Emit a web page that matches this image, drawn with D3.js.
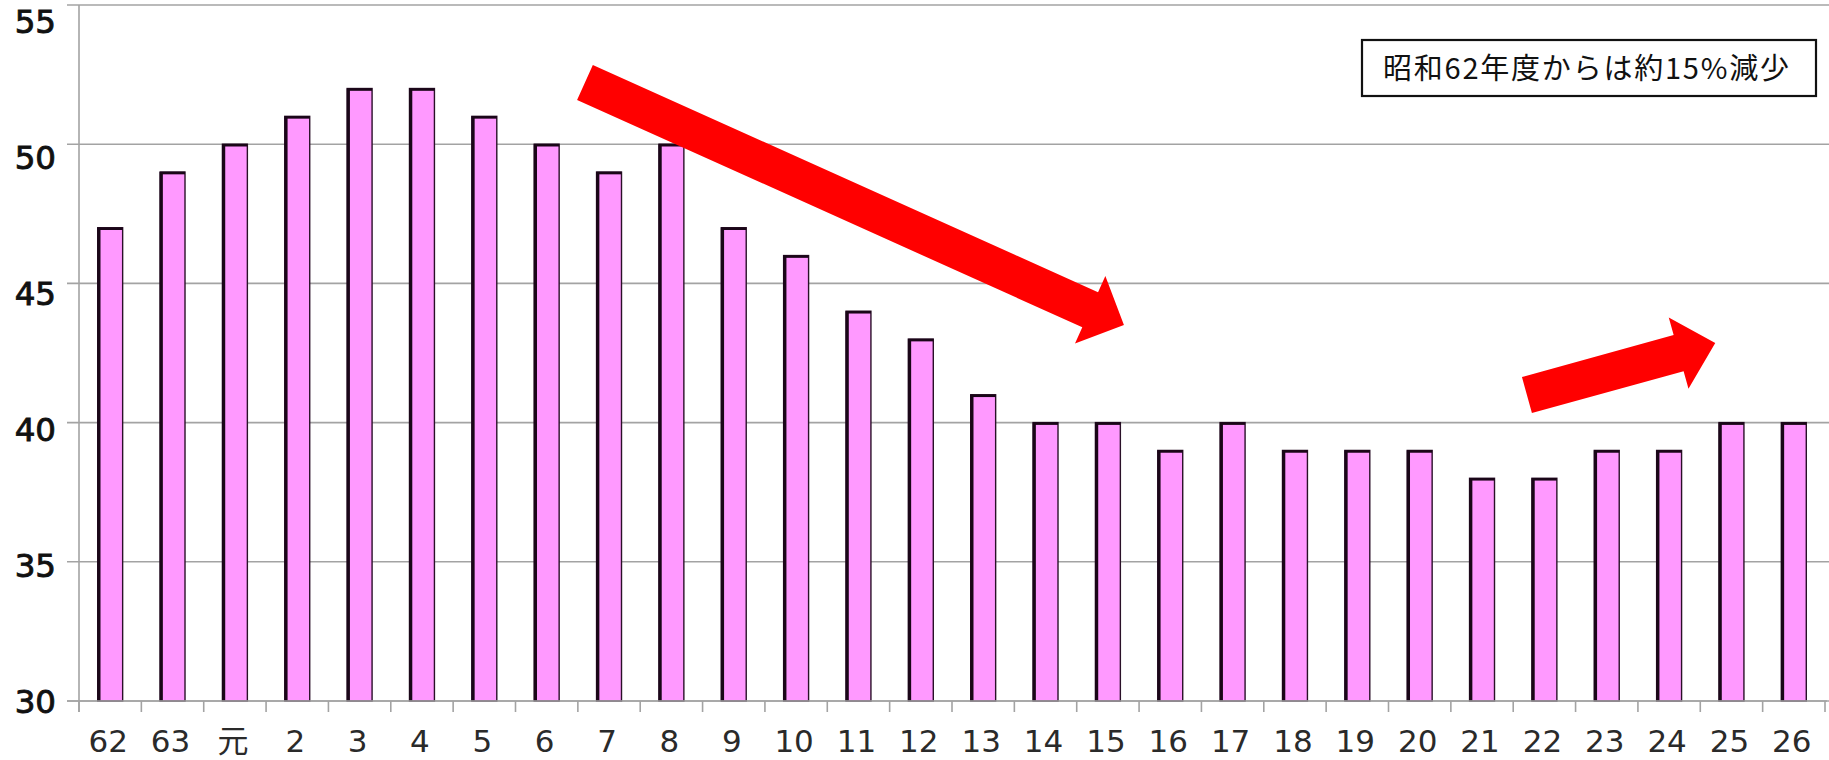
<!DOCTYPE html>
<html><head><meta charset="utf-8">
<script src="https://cdn.jsdelivr.net/npm/d3@7"></script>
<style>body{margin:0;background:#fff;}svg{display:block;}</style>
</head><body>
<svg id="chart" width="1829" height="760"></svg>
<script>
const categories = ["62","63","元","2","3","4","5","6","7","8","9","10","11","12","13","14","15","16","17","18","19","20","21","22","23","24","25","26"];
const values = [47,49,50,51,52,52,51,50,49,50,47,46,44,43,41,40,40,39,40,39,39,39,38,38,39,39,40,40];
const yTicks = [30,35,40,45,50,55];
const note = "昭和62年度からは約15%減少";
// arrows in data coordinates: [category index, value]
const arrowTails = [[7.614,52.22],[22.72,40.99]];
const arrowTips  = [[16.257,43.51],[25.74,42.86]];

const W = 1829, H = 760;
const L = 79, R = 1825, T = 5, B = 701;
const svg = d3.select("#chart");
svg.append("rect").attr("width",W).attr("height",H).attr("fill","#fff");

const x = d3.scaleBand().domain(categories).range([L,R]).paddingInner(0.6).paddingOuter(0.3);
const xi = d3.scaleLinear().domain([-0.5, categories.length-0.5]).range([L,R]);
const y = d3.scaleLinear().domain([30,55]).range([B,T]);
const yLab = d3.scaleLinear().domain([30,55]).range([701,21]);

// gridlines
svg.append("g").selectAll("line").data(yTicks).join("line")
  .attr("x1",67).attr("x2",W).attr("y1",d=>y(d)).attr("y2",d=>y(d))
  .attr("stroke","#a3a3a3").attr("stroke-width",1.6);

// y axis line
svg.append("line").attr("x1",L).attr("x2",L).attr("y1",T).attr("y2",712)
  .attr("stroke","#a3a3a3").attr("stroke-width",1.6);

// x tick marks at band boundaries
const step = x.step();
svg.append("g").selectAll("line").data(d3.range(categories.length+1)).join("line")
  .attr("x1",i=>L+i*step).attr("x2",i=>L+i*step).attr("y1",B).attr("y2",712)
  .attr("stroke","#a3a3a3").attr("stroke-width",1.6);

// bars
const bars = svg.append("g").selectAll("g").data(values).join("g");
bars.append("rect")
  .attr("x",(d,i)=>x(categories[i])).attr("y",d=>y(d))
  .attr("width",x.bandwidth()).attr("height",d=>B-y(d))
  .attr("fill","#ff99ff").attr("stroke","#2a1028").attr("stroke-width",1.4);
bars.append("line")
  .attr("x1",(d,i)=>x(categories[i])+1.2).attr("x2",(d,i)=>x(categories[i])+1.2)
  .attr("y1",d=>y(d)).attr("y2",B)
  .attr("stroke","#1a0618").attr("stroke-width",3.2);
bars.append("line")
  .attr("x1",(d,i)=>x(categories[i])).attr("x2",(d,i)=>x(categories[i])+x.bandwidth())
  .attr("y1",d=>y(d)+1).attr("y2",d=>y(d)+1)
  .attr("stroke","#1a0618").attr("stroke-width",2.6);

// x-axis baseline
svg.append("line").attr("x1",67).attr("x2",1827).attr("y1",B).attr("y2",B)
  .attr("stroke","#a3a3a3").attr("stroke-width",1.6);

// y labels
svg.append("g").selectAll("text").data(yTicks).join("text")
  .attr("x",56).attr("y",d=>yLab(d)).attr("dy","0.36em")
  .attr("text-anchor","end")
  .attr("font-family","'DejaVu Sans','Noto Sans CJK JP',sans-serif")
  .attr("font-size",32.5).attr("fill","#111")
  .attr("stroke","#111").attr("stroke-width",0.9)
  .text(d=>d);

// x labels
svg.append("g").selectAll("text").data(categories).join("text")
  .attr("x",d=>x(d)+x.bandwidth()/2-2).attr("y",752)
  .attr("text-anchor","middle")
  .attr("font-family","'DejaVu Sans','Noto Sans CJK JP',sans-serif")
  .attr("font-size",31).attr("fill","#2a2a2a").text(d=>d);

// arrows
const arrowStyle = [{hw:19.2,hh:37,hl:37},{hw:18.7,hh:37,hl:38}];
arrowTails.forEach((t,k)=>{
  const x0 = xi(t[0]), y0 = y(t[1]);
  const x1 = xi(arrowTips[k][0]), y1 = y(arrowTips[k][1]);
  const len = Math.hypot(x1-x0,y1-y0);
  const ang = Math.atan2(y1-y0,x1-x0)*180/Math.PI;
  const s = arrowStyle[k];
  const pts = [[0,-s.hw],[len-s.hl,-s.hw],[len-s.hl,-s.hh],[len,0],[len-s.hl,s.hh],[len-s.hl,s.hw],[0,s.hw]];
  svg.append("polygon")
    .attr("points",pts.map(p=>p.join(",")).join(" "))
    .attr("transform",`translate(${x0},${y0}) rotate(${ang})`)
    .attr("fill","#ff0000");
});

// note box
const noteG = svg.append("g");
noteG.append("rect").attr("x",1362).attr("y",40).attr("width",454).attr("height",56)
  .attr("fill","#fff").attr("stroke","#111").attr("stroke-width",2.2);
noteG.append("text").attr("x",1383).attr("y",68.5).attr("dy","0.36em")
  .attr("textLength",406).attr("lengthAdjust","spacing")
  .attr("font-family","'Noto Sans CJK JP',sans-serif")
  .attr("font-size",29).attr("fill","#111").text(note);
</script>
</body></html>
